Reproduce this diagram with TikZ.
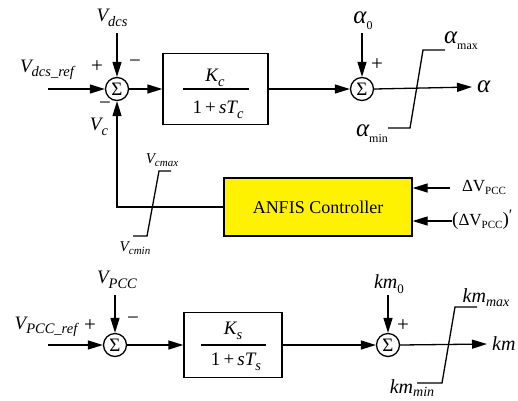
\documentclass[tikz,border=0pt]{standalone}
\usepackage{fontspec}
\setmainfont{Liberation Serif}
\usetikzlibrary{arrows.meta}
\newcommand{\fsz}[1]{\fontsize{#1}{#1}\selectfont}
% main size, sub size, drop, main text, sub text (both italic)
\newcommand{\LabX}[5]{{\fsz{#1}\itshape #4}\raisebox{-#3}{\fsz{#2}\itshape #5}}
\newcommand{\Lab}[2]{\LabX{19}{14.5}{4.5pt}{#1}{#2}}
\newcommand{\AlLab}[1]{{\fsz{25}\itshape α}\raisebox{-6pt}{\fsz{12}#1}}
\newcommand{\DV}{{\fsz{17}ΔV}\raisebox{-3pt}{\fsz{11}PCC}}
\begin{document}
\begin{tikzpicture}[x=1pt,y=-1pt,
  sig/.style={line width=1.3pt},
  arr/.style={sig,-{Triangle[length=15pt,width=9pt]}},
  sumc/.style={circle,draw,line width=1.3pt,minimum size=23pt,inner sep=0pt,font=\fsz{19}},
  blk/.style={draw,line width=1.3pt,inner sep=0pt},
  lab/.style={inner sep=0pt},
  sign/.style={inner sep=0pt,font=\fsz{21}},
  lim/.style={line width=1.3pt}]
\useasboundingbox (0,0) rectangle (518,400);

% ---------- top loop ----------
\node[sumc] (s1) at (117,89) {Σ};
\node[blk,minimum width=105pt,minimum height=71pt] (gc) at (215.5,89) {};
\node[lab] (kc) at (215,78) {\Lab{K}{c}};
\draw[sig] (183,89) -- (249,89);
\node[lab] (tc) at (218,110) {{\fsz{19}1\,+\,}\Lab{sT}{c}};
\node[sumc] (s2) at (362,89) {Σ};
\draw[arr] (s1.east) -- (gc.west);
\draw[arr] (gc.east) -- (s2.west);

\coordinate (r1) at (48,89);
\draw[arr] (r1) -- (s1.west);
\node[lab] (r1l) at (47,70) {\Lab{V}{dcs\_ref}};
\node[lab] (vdcs) at (112,18) {\Lab{V}{dcs}};
\coordinate (vdcsend) at (117,33);
\draw[arr] (vdcsend) -- (s1.north);
\node[sign] (p1) at (97,67) {+};
\node[sign] (m1) at (135,64) {−};
\node[sign] (m2) at (105,106) {−};
\node[lab] (vc) at (99,127) {\Lab{V}{c}};

\node[lab] (a0) at (363,21) {\AlLab{0}};
\coordinate (a0end) at (362,33);
\draw[arr] (a0end) -- (s2.north);
\node[sign] (p2) at (377,65) {+};
\node[lab,anchor=west] (al) at (477,87) {\fsz{25}\itshape α};
\draw[arr] (s2.east) -- ([xshift=-5pt]al.west);
\draw[lim] (388,128) -- (410,128) -- (423,50) -- (445,50);
\node[lab] (amax) at (461,41) {\AlLab{max}};
\node[lab] (amin) at (372,134) {\AlLab{min}};

% ---------- ANFIS ----------
\node[blk,fill=yellow,minimum width=188pt,minimum height=58pt,font=\fsz{18}] (anfis) at (318,207) {ANFIS Controller};
\draw[arr] (anfis.west) -| (s1.south);
\draw[lim] (133,236) -- (147,236) -- (159,171) -- (171,171);
\node[lab] (vcmax) at (162,160) {\LabX{15}{11}{3.5pt}{V}{cmax}};
\node[lab] (vcmin) at (135,248) {\LabX{15}{11}{3.5pt}{V}{cmin}};

\coordinate (d1s) at (450,188);
\node[lab] (d1) at (484,187) {\DV};
\draw[arr] (d1s) -- (anfis.east |- d1s);
\coordinate (d2s) at (452,221);
\node[lab,anchor=west] (d2) at (452,220) {{\fsz{19}(}\DV{\fsz{19})}\raisebox{5pt}{\fsz{16}′}};
\draw[arr] (d2s) -- (anfis.east |- d2s);

% ---------- bottom loop ----------
\node[sumc] (s3) at (115,345) {Σ};
\node[blk,minimum width=98pt,minimum height=65pt] (gs) at (233,345) {};
\node[lab] (ks) at (233,331) {\Lab{K}{s}};
\draw[sig] (201,345) -- (266,345);
\node[lab] (ts) at (236,362) {{\fsz{19}1\,+\,}\Lab{sT}{s}};
\node[sumc] (s4) at (388,345) {Σ};
\draw[arr] (s3.east) -- (gs.west);
\draw[arr] (gs.east) -- (s4.west);

\coordinate (r3) at (48,345);
\draw[arr] (r3) -- (s3.west);
\node[lab] (r3l) at (46,327) {\Lab{V}{PCC\_ref}};
\node[lab] (vpcc) at (117,280) {\Lab{V}{PCC}};
\coordinate (vpccend) at (115,295);
\draw[arr] (vpccend) -- (s3.north);
\node[sign] (p3) at (90,326) {+};
\node[sign] (m3) at (133,321) {−};

\node[lab] (km0) at (389,284) {{\fsz{20}\itshape km}\raisebox{-5pt}{\fsz{13}0}};
\coordinate (km0end) at (388,295);
\draw[arr] (km0end) -- (s4.north);
\node[sign] (p4) at (403,326) {+};
\node[lab,anchor=west] (km) at (492,344) {\fsz{20}\itshape km};
\draw[arr] (s4.east) -- ([xshift=-5pt]km.west);
\draw[lim] (417,383) -- (442,383) -- (455,307) -- (477,307);
\node[lab] (kmmax) at (486,298) {\LabX{20}{14}{4pt}{km}{max}};
\node[lab] (kmmin) at (412,388) {\LabX{20}{14}{3pt}{km}{min}};
\end{tikzpicture}
\end{document}
